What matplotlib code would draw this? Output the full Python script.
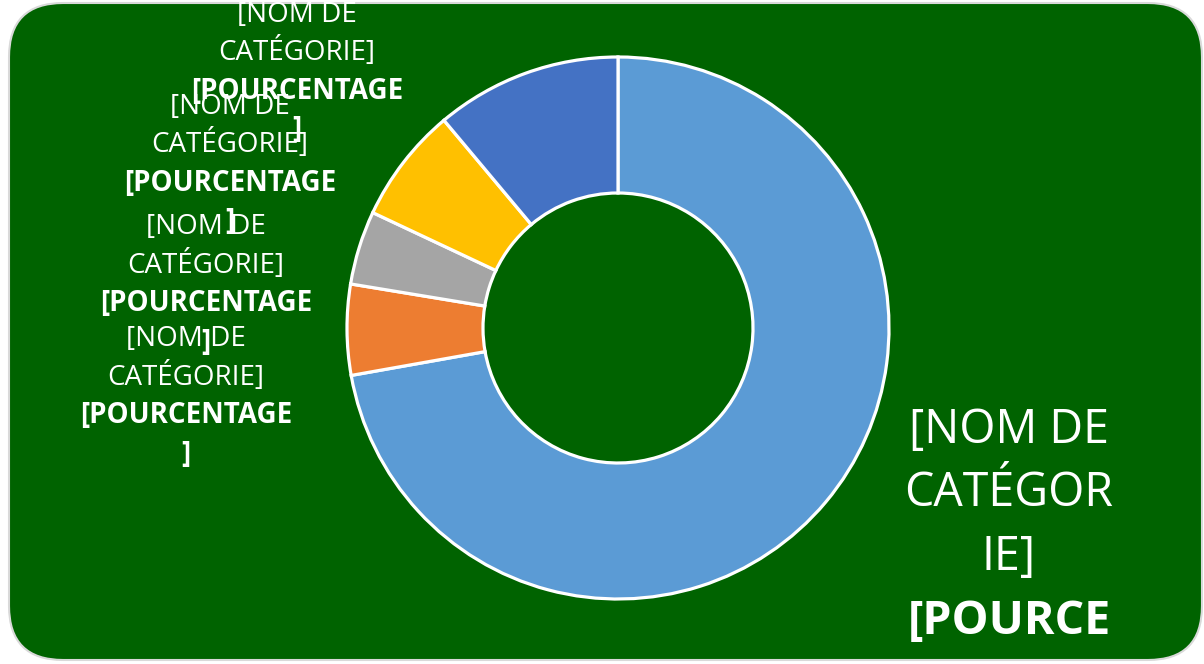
import matplotlib
matplotlib.use('Agg')
import matplotlib.pyplot as plt
from matplotlib.patches import FancyBboxPatch

plt.rcParams['font.family'] = ['Open Sans', 'DejaVu Sans']

# donut values (clockwise from the top)
categories = ['Cat 1', 'Cat 2', 'Cat 3', 'Cat 4', 'Cat 5']
values = [72.2, 5.4, 4.4, 6.9, 11.1]
colors = ['#5B9BD5', '#ED7D31', '#A5A5A5', '#FFC000', '#4472C4']

name_lines = ['[NOM DE', 'CATÉGORIE]']
pct_lines = ['[POURCENTAGE', ']']
big_name_lines = ['[NOM DE', 'CATÉGOR', 'IE]']
big_pct_lines = ['[POURCE']

W, H = 1204, 664
BG = '#006300'

fig = plt.figure(figsize=(W / 100, H / 100), dpi=100)
fig.patch.set_facecolor('white')

box = FancyBboxPatch((9 / W, 4 / H), 1193 / W, 657 / H,
                     boxstyle='round,pad=0,rounding_size=0.045',
                     transform=fig.transFigure, facecolor=BG,
                     edgecolor='#D9D9D9', linewidth=1.5, mutation_aspect=W / H,
                     zorder=-5)
fig.patches.append(box)

ax = fig.add_axes([0, 0, 1, 1])
ax.set_axis_off()
ax.patch.set_alpha(0)

cx, cy, r_out, r_in = 618, H - 328, 271, 135
ax.pie(values, colors=colors, startangle=90, counterclock=False,
       center=(cx, cy), radius=r_out,
       wedgeprops=dict(width=r_out - r_in, edgecolor='white', linewidth=2.3))
ax.set_xlim(0, W)
ax.set_ylim(0, H)
ax.set_aspect('equal')


def label(x, y0, step, size, names, pcts):
    y = y0
    for s in names:
        ax.text(x, H - y, s, ha='center', va='baseline', color='white',
                fontsize=size)
        y += step
    for s in pcts:
        ax.text(x, H - y, s, ha='center', va='baseline', color='white',
                fontsize=size, fontweight='bold')
        y += step


# small labels: (x centre, first baseline in pixels from top)
small = [(297, 21.5), (230, 113.5), (206, 234.5), (186, 346.5)]
for x, y0 in small:
    label(x, y0, 38.5, 20, name_lines, pct_lines)

label(1009, 443, 63.5, 33.5, big_name_lines, big_pct_lines)

fig.savefig('out.png', dpi=100, facecolor='white')
